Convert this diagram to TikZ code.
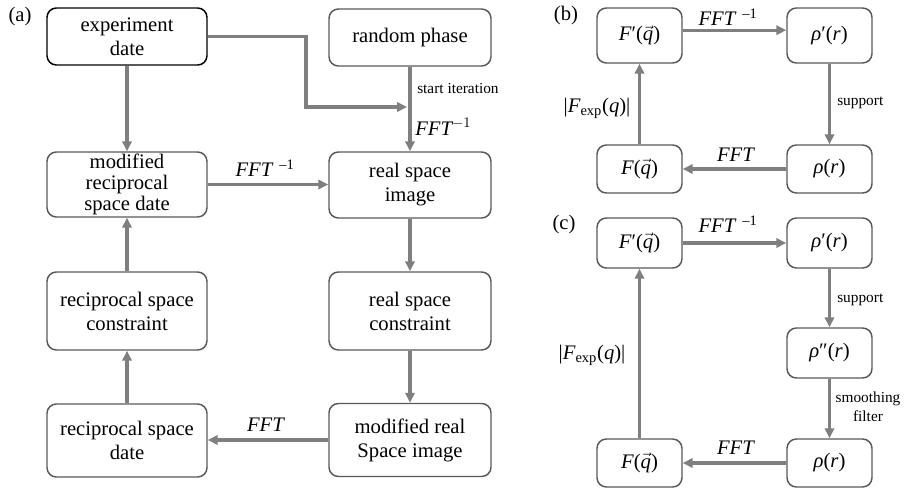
\documentclass[tikz,border=0pt]{standalone}
\usepackage{fontspec}
\setmainfont{Liberation Serif}
\usetikzlibrary{arrows.meta}
\definecolor{arrowgray}{HTML}{7F7F7F}
\definecolor{edgegray}{HTML}{595959}
\newcommand\qvec{$\vec{\mbox{\textit{q}}}$}
\newcommand\finv{\textit{FFT}\,\textsuperscript{\,–1}}
\begin{document}
\begin{tikzpicture}[x=0.75pt,y=-0.75pt,
  box/.style={draw=edgegray, line width=1.1pt, rounded corners=7pt, align=center,
    inner sep=0pt, font=\fontsize{15.5}{18}\selectfont},
  bigbox/.style={box, minimum width=120pt},
  sbox/.style={box, minimum width=63.75pt},
  flow/.style={draw=arrowgray, line width=2.3pt, -{Triangle[length=7.5pt,width=7pt]}},
  lab/.style={font=\fontsize{15.5}{18}\selectfont, inner sep=0pt, align=center},
  small/.style={font=\fontsize{11.5}{14}\selectfont, inner sep=0pt, align=center}]
\useasboundingbox (0,0) rectangle (904,493);

% ---------- (a) iterative phase retrieval ----------
\node[lab] (la) at (20,17) {(a)};
\node[bigbox, draw=black, minimum height=42.75pt] (exp) at (127,36.5) {experiment\\date};
\node[bigbox, minimum width=121.5pt, minimum height=42.75pt] (rand) at (410,37.5) {random phase};
\node[bigbox, minimum height=48.75pt, font=\fontsize{15.5}{15.5}\selectfont] (mrec) at (127,184.5) {modified\\reciprocal\\space date};
\node[bigbox, minimum width=121.5pt, minimum height=49.5pt] (rimg) at (410,185) {real space\\image};
\node[bigbox, minimum height=58.5pt] (rcon) at (127,311) {reciprocal space\\constraint};
\node[bigbox, minimum width=121.5pt, minimum height=58.5pt] (rsc) at (410,311) {real space\\constraint};
\node[bigbox, minimum height=54.75pt] (rdat) at (127,440.5) {reciprocal space\\date};
\node[bigbox, minimum width=121.5pt, minimum height=54.75pt] (mreal) at (410,440) {modified real\\Space image};

\coordinate (bend) at (306,107);
\coordinate (join) at (407,107);
\draw[flow] (exp) -- (mrec);
\draw[flow] (exp.east) -| (bend) -- (join);
\draw[flow] (rand) -- (rimg);
\draw[flow] (mrec.east) -- (mrec.east -| rimg.west);
\draw[flow] (rimg) -- (rsc);
\draw[flow] (rsc) -- (mreal);
\draw[flow] (mreal.west) -- (mreal.west -| rdat.east);
\draw[flow] (rdat) -- (rcon);
\draw[flow] (rcon) -- (mrec);

\node[small, anchor=west] (start) at (417,88) {start iteration};
\node[lab, anchor=west] (fa1) at (415,127) {$\mathit{FFT}^{-1}$};
\node[lab] (fa2) at (265,168) {\finv};
\node[lab] (fa3) at (266,425) {\textit{FFT}};

% ---------- (b) basic loop ----------
\node[lab] (lb) at (566,16) {(b)};
\node[sbox, minimum height=41.25pt] (bF1) at (639.5,35.5) {\textit{F}′(\qvec)};
\node[sbox, minimum height=41.25pt] (bR1) at (829.5,35.5) {\textit{ρ}′(\textit{r})};
\node[sbox, minimum height=36pt] (bF0) at (639.5,169) {\textit{F}(\qvec)};
\node[sbox, minimum height=36pt] (bR0) at (829.5,169) {\textit{ρ}(\textit{r})};
\draw[flow] ([yshift=4pt]bF1.east) -- ([yshift=4pt]bR1.west);
\draw[flow] (bR1) -- (bR0);
\draw[flow] (bR0) -- (bF0);
\draw[flow] (bF0) -- (bF1);
\node[lab] (fb1) at (728,17) {\finv};
\node[lab] (fb2) at (736,155) {\textit{FFT}};
\node[small, anchor=west] (sb) at (837,103) {support};
\node[lab] (mb) at (597,108) {|\textit{F}\textsubscript{exp}(\textit{q})|};

% ---------- (c) loop with smoothing ----------
\node[lab] (lc) at (564,225) {(c)};
\node[sbox, minimum height=37.5pt] (cF1) at (639.5,243) {\textit{F}′(\qvec)};
\node[sbox, minimum height=37.5pt] (cR1) at (829.5,243) {\textit{ρ}′(\textit{r})};
\node[sbox, minimum height=37.5pt] (cR2) at (829.5,353) {\textit{ρ}″(\textit{r})};
\node[sbox, minimum height=36pt] (cR0) at (829.5,463) {\textit{ρ}(\textit{r})};
\node[sbox, minimum height=36pt] (cF0) at (639.5,463) {\textit{F}(\qvec)};
\draw[flow] (cF1) -- (cR1);
\draw[flow] (cR1) -- (cR2);
\draw[flow] (cR2) -- (cR0);
\draw[flow] (cR0) -- (cF0);
\draw[flow] (cF0) -- (cF1);
\node[lab] (fc1) at (728,224) {\finv};
\node[lab] (fc2) at (736,448) {\textit{FFT}};
\node[small, anchor=west] (sc) at (837,300) {support};
\node[small] (sm) at (868,407) {smoothing\\filter};
\node[lab] (mc) at (592,355) {|\textit{F}\textsubscript{exp}(\textit{q})|};
\end{tikzpicture}
\end{document}
